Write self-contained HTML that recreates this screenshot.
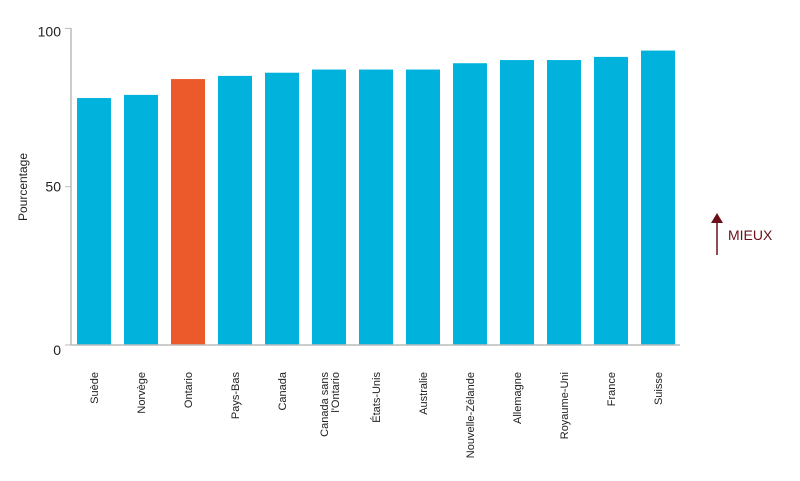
<!DOCTYPE html>
<html><head><meta charset="utf-8"><style>
body{margin:0;background:#fff;}
svg text{font-family:"Liberation Sans",sans-serif;}
</style></head><body>
<svg width="800" height="476" viewBox="0 0 800 476">
<g id="bars"></g>
<line x1="71" y1="28" x2="71" y2="345" stroke="#bbb" stroke-width="1.5"/>
<line x1="71" y1="345" x2="680" y2="345" stroke="#bbb" stroke-width="1.5"/>
<g id="yticks"></g>
<g id="xlabels"></g>
<text transform="translate(27,187) rotate(-90)" text-anchor="middle" font-size="12" fill="#222">Pourcentage</text>
<g>
<line x1="717" y1="222" x2="717" y2="255" stroke="#6b0f1a" stroke-width="1.5"/>
<polygon points="711,223 723,223 717,213" fill="#6b0f1a"/>
<text x="728" y="240" font-size="14" fill="#6b0f1a">MIEUX</text>
</g>
</svg>
<script>
const categories=["Suède","Norvège","Ontario","Pays-Bas","Canada","Canada sans l'Ontario","États-Unis","Australie","Nouvelle-Zélande","Allemagne","Royaume-Uni","France","Suisse"];
const values=[78,79,84,85,86,87,87,87,89,90,90,91,93];
const highlight=["Ontario"];
const yTicks=[0,50,100];
const NS="http://www.w3.org/2000/svg";
const y=v=>345-v*3.166;
const xStart=77,step=47,bw=34;
const x=i=>xStart+i*step;
const bars=document.getElementById('bars');
values.forEach((v,i)=>{
 const r=document.createElementNS(NS,'rect');
 r.setAttribute('x',x(i));r.setAttribute('y',y(v));r.setAttribute('width',bw);r.setAttribute('height',345-y(v));
 r.setAttribute('fill',highlight.includes(categories[i])?'#ec5a2b':'#00b2dc');
 
 
 bars.appendChild(r);
});
const yt=document.getElementById('yticks');
yTicks.forEach(t=>{
 const l=document.createElementNS(NS,'line');
 l.setAttribute('x1',65);l.setAttribute('x2',71);l.setAttribute('y1',y(t));l.setAttribute('y2',y(t));l.setAttribute('stroke','#bbb');
 
 
 yt.appendChild(l);
 const tx=document.createElementNS(NS,'text');
 tx.setAttribute('x',61);tx.setAttribute('y',y(t)+(t===0?10:t===100?8:5));tx.setAttribute('text-anchor','end');tx.setAttribute('font-size','14');tx.setAttribute('fill','#222');
 tx.textContent=t;
 
 
 yt.appendChild(tx);
});
const xl=document.getElementById('xlabels');
categories.forEach((c,i)=>{
 const cx=x(i)+bw/2;
 const parts=c==="Canada sans l'Ontario"?["Canada sans","l'Ontario"]:[c];
 parts.forEach((p,j)=>{
  const tx=document.createElementNS(NS,'text');
  const off=parts.length>1?(j===0?-5:6):0;
  tx.setAttribute('transform','translate('+(cx+4+off)+',372) rotate(-90)');
  tx.setAttribute('text-anchor','end');tx.setAttribute('font-size','11');tx.setAttribute('fill','#222');
  tx.textContent=p;
  
  
  xl.appendChild(tx);
 });
});
</script>
</body></html>
